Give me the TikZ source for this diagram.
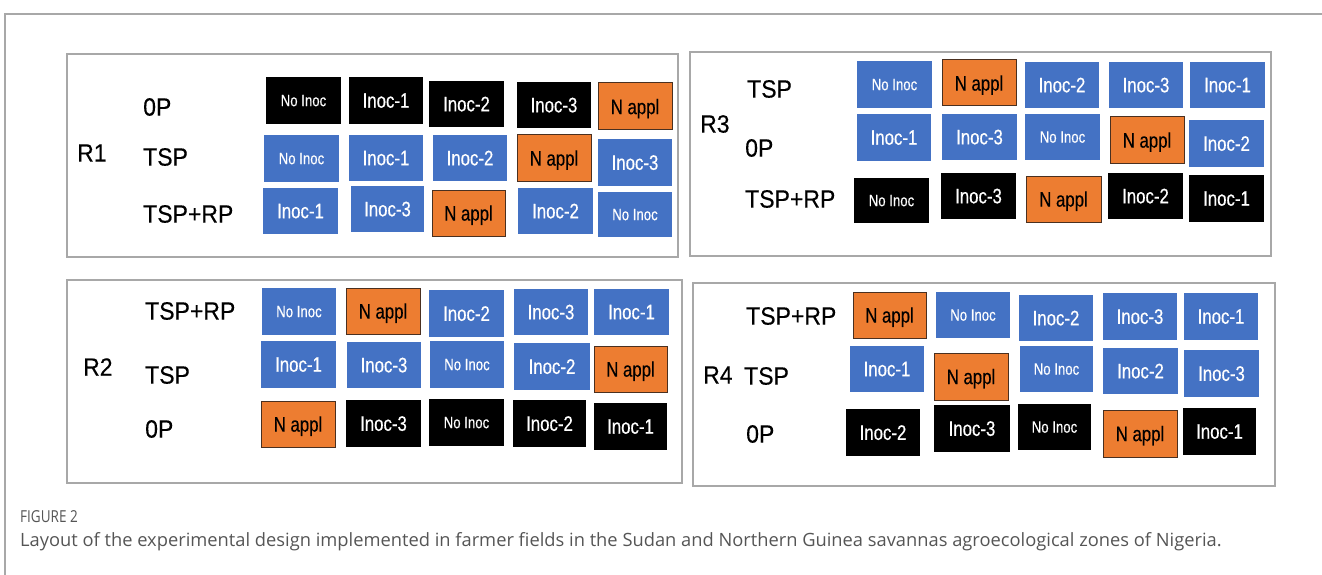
\documentclass[tikz,border=0pt]{standalone}
\usepackage{fontspec}
\setmainfont{Liberation Sans}
\newfontfamily\boxfont[FakeStretch=0.8,FakeBold=0.3]{Liberation Sans}
\newfontfamily\lblfont[FakeStretch=0.92,FakeBold=0.3]{Liberation Sans}
\newfontfamily\capfont{Open Sans}
\newfontfamily\figfont[FakeStretch=0.82]{Open Sans}
\definecolor{boxblue}{HTML}{4472C4}
\definecolor{boxorange}{HTML}{ED7D31}
\definecolor{orangeedge}{HTML}{4A3020}
\definecolor{panelgray}{HTML}{A8A8A8}
\definecolor{captiongray}{HTML}{555555}
\tikzset{
  cellbase/.style={inner sep=0pt, outer sep=0pt, text depth=0pt, font=\boxfont\fontsize{21}{21}\selectfont},
  bluecell/.style={cellbase, fill=boxblue, text=white},
  blackcell/.style={cellbase, fill=black, text=white},
  orangecell/.style={cellbase, fill=boxorange, draw=orangeedge, line width=1pt, text=black},
  rowlabel/.style={anchor=west, inner sep=0pt, font=\lblfont\fontsize{25}{25}\selectfont},
  panel/.style={draw=panelgray, line width=1.5pt},
  frameline/.style={draw=panelgray, line width=1.5pt}
}
% name, style, x1, y1, x2, y2, text
\newcommand\cell[7]{\node[#2, minimum width={(#5-#3)*1pt}, minimum height={(#6-#4)*1pt}] (#1) at ({(#3+#5)/2},{(#4+#6)/2}) {#7};}
\newcommand\NI{{\fontsize{16.5}{16.5}\selectfont No Inoc}}
\begin{document}
\begin{tikzpicture}[x=1pt,y=-1pt]
\useasboundingbox (0,0) rectangle (1322,575);
% outer frame
\coordinate (ftl) at (5,14);
\coordinate (ftr) at (1322,14);
\coordinate (fbl) at (5,575);
\draw[frameline] (ftr) -- (ftl) -- (fbl);
% panels
\draw[panel] (67,54) rectangle (678,257);
\draw[panel] (690,52) rectangle (1271,256);
\draw[panel] (67,280) rectangle (682,483);
\draw[panel] (693,283) rectangle (1275,486);

% ---------- R1
\node[rowlabel] (r1) at (77,153) {R1};
\node[rowlabel] (r1a) at (143,107) {0P};
\node[rowlabel] (r1b) at (143,157) {TSP};
\node[rowlabel] (r1c) at (143,214) {TSP+RP};
\cell{a11}{blackcell}{266}{77}{341}{124}{\NI}
\cell{a12}{blackcell}{349}{77}{423}{124}{Inoc-1}
\cell{a13}{blackcell}{429}{81}{504}{127}{Inoc-2}
\cell{a14}{blackcell}{517}{82}{591}{128}{Inoc-3}
\cell{a15}{orangecell}{598}{83}{672}{130}{N appl}
\cell{a21}{bluecell}{264}{135}{339}{182}{\NI}
\cell{a22}{bluecell}{349}{135}{423}{181}{Inoc-1}
\cell{a23}{bluecell}{433}{135}{507}{181}{Inoc-2}
\cell{a24}{orangecell}{517}{135}{591}{181}{N appl}
\cell{a25}{bluecell}{598}{139}{672}{186}{Inoc-3}
\cell{a31}{bluecell}{263}{188}{338}{234}{Inoc-1}
\cell{a32}{bluecell}{351}{186}{424}{232}{Inoc-3}
\cell{a33}{orangecell}{432}{190}{505}{236}{N appl}
\cell{a34}{bluecell}{518}{188}{593}{234}{Inoc-2}
\cell{a35}{bluecell}{598}{192}{672}{237}{\NI}

% ---------- R3
\node[rowlabel] (r3) at (700,124) {R3};
\node[rowlabel] (r3a) at (747,89) {TSP};
\node[rowlabel] (r3b) at (745,148) {0P};
\node[rowlabel] (r3c) at (745,199) {TSP+RP};
\cell{c11}{bluecell}{857}{61}{932}{108}{\NI}
\cell{c12}{orangecell}{942}{60}{1016}{106}{N appl}
\cell{c13}{bluecell}{1025}{62}{1099}{108}{Inoc-2}
\cell{c14}{bluecell}{1109}{62}{1183}{108}{Inoc-3}
\cell{c15}{bluecell}{1190}{62}{1265}{108}{Inoc-1}
\cell{c21}{bluecell}{857}{114}{931}{161}{Inoc-1}
\cell{c22}{bluecell}{942}{114}{1017}{160}{Inoc-3}
\cell{c23}{bluecell}{1025}{114}{1100}{160}{\NI}
\cell{c24}{orangecell}{1110}{117}{1184}{163}{N appl}
\cell{c25}{bluecell}{1189}{120}{1264}{167}{Inoc-2}
\cell{c31}{blackcell}{854}{178}{929}{223}{\NI}
\cell{c32}{blackcell}{941}{173}{1016}{219}{Inoc-3}
\cell{c33}{orangecell}{1026}{176}{1101}{222}{N appl}
\cell{c34}{blackcell}{1108}{173}{1183}{219}{Inoc-2}
\cell{c35}{blackcell}{1189}{175}{1264}{222}{Inoc-1}

% ---------- R2
\node[rowlabel] (r2) at (83,367) {R2};
\node[rowlabel] (r2a) at (145,311) {TSP+RP};
\node[rowlabel] (r2b) at (145,375) {TSP};
\node[rowlabel] (r2c) at (145,429) {0P};
\cell{b11}{bluecell}{262}{288}{336}{335}{\NI}
\cell{b12}{orangecell}{346}{288}{420}{334}{N appl}
\cell{b13}{bluecell}{429}{290}{504}{337}{Inoc-2}
\cell{b14}{bluecell}{514}{289}{588}{335}{Inoc-3}
\cell{b15}{bluecell}{594}{289}{669}{335}{Inoc-1}
\cell{b21}{bluecell}{261}{341}{336}{388}{Inoc-1}
\cell{b22}{bluecell}{347}{342}{421}{388}{Inoc-3}
\cell{b23}{bluecell}{430}{341}{504}{388}{\NI}
\cell{b24}{bluecell}{514}{343}{590}{390}{Inoc-2}
\cell{b25}{orangecell}{594}{346}{667}{392}{N appl}
\cell{b31}{orangecell}{261}{401}{335}{447}{N appl}
\cell{b32}{blackcell}{346}{400}{421}{447}{Inoc-3}
\cell{b33}{blackcell}{429}{399}{504}{446}{\NI}
\cell{b34}{blackcell}{513}{400}{586}{447}{Inoc-2}
\cell{b35}{blackcell}{594}{403}{667}{450}{Inoc-1}

% ---------- R4
\node[rowlabel] (r4) at (703,375) {R4};
\node[rowlabel] (r4a) at (746,316) {TSP+RP};
\node[rowlabel] (r4b) at (744,376) {TSP};
\node[rowlabel] (r4c) at (746,434) {0P};
\cell{d11}{orangecell}{853}{292}{926}{338}{N appl}
\cell{d12}{bluecell}{936}{292}{1010}{338}{\NI}
\cell{d13}{bluecell}{1019}{295}{1093}{341}{Inoc-2}
\cell{d14}{bluecell}{1103}{293}{1177}{340}{Inoc-3}
\cell{d15}{bluecell}{1184}{293}{1258}{340}{Inoc-1}
\cell{d21}{bluecell}{850}{346}{924}{392}{Inoc-1}
\cell{d22}{orangecell}{934}{353}{1008}{400}{N appl}
\cell{d23}{bluecell}{1020}{346}{1093}{392}{\NI}
\cell{d24}{bluecell}{1103}{348}{1178}{394}{Inoc-2}
\cell{d25}{bluecell}{1184}{350}{1259}{397}{Inoc-3}
\cell{d31}{blackcell}{846}{409}{920}{456}{Inoc-2}
\cell{d32}{blackcell}{934}{405}{1010}{452}{Inoc-3}
\cell{d33}{blackcell}{1018}{404}{1091}{450}{\NI}
\cell{d34}{orangecell}{1103}{410}{1177}{457}{N appl}
\cell{d35}{blackcell}{1183}{408}{1256}{455}{Inoc-1}

% ---------- caption
\node[anchor=west, inner sep=0pt, text=captiongray, font=\figfont\fontsize{16.5}{16.5}\selectfont] (fig) at (20,517) {FIGURE 2};
\node[anchor=west, inner sep=0pt, text=captiongray, font=\capfont\fontsize{18.3}{18.3}\selectfont] (cap) at (20,542) {Layout of the experimental design implemented in farmer fields in the Sudan and Northern Guinea savannas agroecological zones of Nigeria.};
\end{tikzpicture}
\end{document}
